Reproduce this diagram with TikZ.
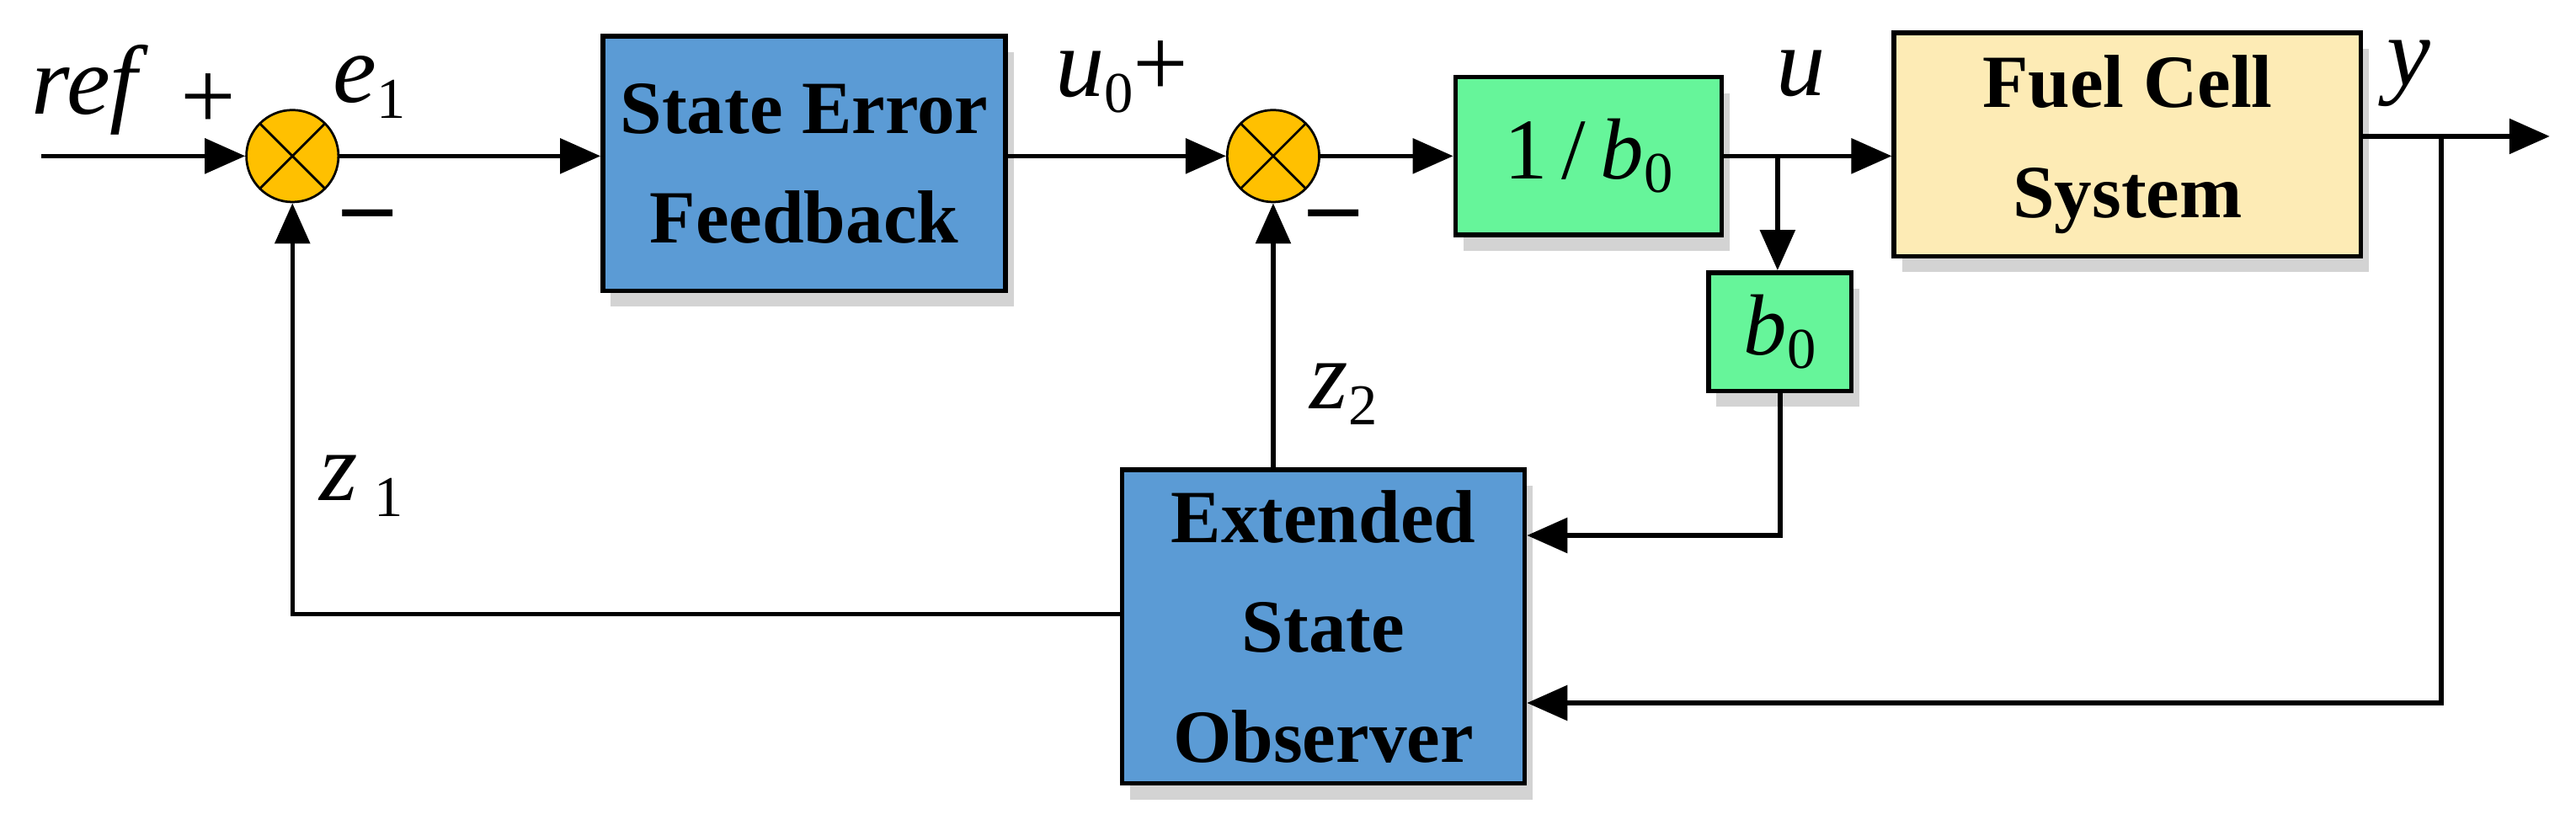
\documentclass[tikz,border=0pt]{standalone}
\usepackage{fontspec}
\setmainfont{Liberation Serif}
\usetikzlibrary{shadows,arrows.meta}
\definecolor{bblue}{HTML}{5B9BD5}
\definecolor{bgreen}{HTML}{66F59A}
\definecolor{byel}{HTML}{FDEBB5}
\definecolor{borange}{HTML}{FFC000}
\newcommand{\sbs}[1]{\raisebox{-0.35ex}{\fontsize{10}{12}\selectfont #1}}
\begin{document}
\begin{tikzpicture}[x=0.01cm,y=-0.01cm,
  blk/.style={draw=black,line width=0.8pt,inner sep=0pt,font=\bfseries\fontsize{13}{15}\selectfont,align=center,
    drop shadow={shadow xshift=0.3ex,shadow yshift=-0.6ex,opacity=0.35}},
  sumn/.style={circle,draw=black,fill=borange,minimum size=0.56cm,inner sep=0pt,path picture={
    \draw (path picture bounding box.south west)--(path picture bounding box.north east)
          (path picture bounding box.north west)--(path picture bounding box.south east);}},
  ln/.style={line width=0.8pt},
  ar/.style={ln,-{Triangle[length=7pt,width=6pt]}},
  lab/.style={font=\fontsize{17}{19}\selectfont}]
\useasboundingbox (0,0) rectangle (1568,502);
\node[sumn] (s1) at (178,95) {};
\node[sumn] (s2) at (775,95) {};
\node[blk,fill=bblue,minimum width=2.45cm,minimum height=1.55cm] (sef) at (489.5,99.5) {State Error\\[4pt]Feedback};
\node[blk,fill=bgreen,minimum width=1.62cm,minimum height=0.96cm] (inv) at (967,95) {\mdseries\fontsize{15}{17}\selectfont 1\,/\,\textit{b}\sbs{0}};
\node[blk,fill=byel,minimum width=2.84cm,minimum height=1.36cm] (fc) at (1295,88) {Fuel Cell\\[4pt]System};
\node[blk,fill=bgreen,minimum width=0.87cm,minimum height=0.72cm] (b0) at (1083.5,202) {\mdseries\fontsize{15}{17}\selectfont\textit{b}\sbs{0}};
\node[blk,fill=bblue,minimum width=2.45cm,minimum height=1.91cm] (eso) at (805.5,381.5) {Extended\\[4pt]State\\[4pt]Observer};
\coordinate (in) at (25,95);
\coordinate (bu) at (1082,95);
\coordinate (by) at (1486,83);
\coordinate (out) at (1552,83);
\draw[ar] (in) -- (s1);
\draw[ar] (s1) -- (sef.west|-s1);
\draw[ar] (sef.east|-s2) -- (s2);
\draw[ar] (s2) -- (inv.west|-s2);
\draw[ar] (inv.east|-bu) -- (fc.west|-bu);
\draw[ar] (bu) -- (b0.north-|bu);
\draw[ar] (fc.east|-by) -- (out);
\draw[ar] (b0.south) -- (b0.south|-0,326) -- (eso.east|-0,326);
\draw[ar] (by) -- (1486,428) -- (eso.east|-0,428);
\draw[ar] (eso.west|-0,374) -- (s1.south|-0,374) -- (s1.south);
\draw[ar] (eso.north-|s2) -- (s2.south);
\node[lab] at (55,55) {\textit{ref}};
\node[lab] at (127,62) {+};
\node[lab] at (225,53) {\textit{e}\sbs{1}};
\node[lab] at (224,136) {\textbf{–}};
\node[lab] at (683,47) {\textit{u}\sbs{0}+};
\node[lab] at (812,136) {\textbf{–}};
\node[lab] at (1096,45) {\textit{u}};
\node[lab] at (1466,45) {\textit{y}};
\node[lab] at (818,240) {\textit{z}\sbs{2}};
\node[lab] at (220,296) {\textit{z}\,\sbs{1}};
\end{tikzpicture}
\end{document}
